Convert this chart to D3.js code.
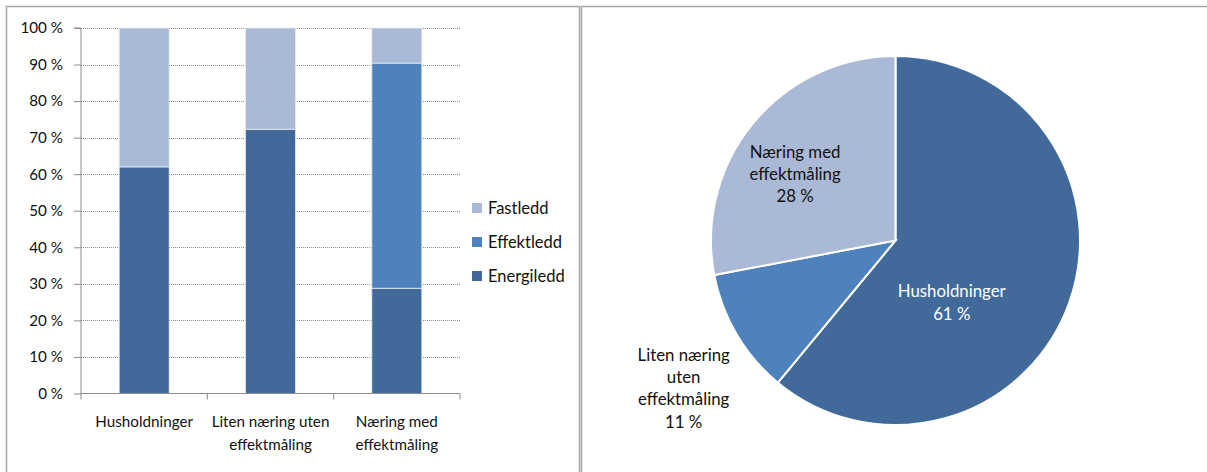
<!DOCTYPE html>
<html>
<head>
<meta charset="utf-8">
<script src="https://cdn.jsdelivr.net/npm/d3@7"></script>
<style>
  html, body { margin: 0; padding: 0; background: #fff; }
  svg { display: block; font-family: Lato, "Open Sans", sans-serif; }
</style>
</head>
<body>
<svg id="chart" width="1207" height="472"></svg>
<script>
// Stacked bar data: share of revenue per tariff component
const categories = [["Husholdninger"], ["Liten næring uten", "effektmåling"], ["Næring med", "effektmåling"]];
const seriesNames = ["Energiledd", "Effektledd", "Fastledd"];
const energiledd = [62, 72.3, 28.8];
const effektledd = [0, 0, 61.6];
const fastledd = [38, 27.7, 9.6];
const yTicks = [0, 10, 20, 30, 40, 50, 60, 70, 80, 90, 100];

// Pie data: share per customer group
const pieLabels = [["Husholdninger"], ["Liten næring", "uten", "effektmåling"], ["Næring med", "effektmåling"]];
const pieValues = [61, 11, 28];

const colors = { Energiledd: "#416a9b", Effektledd: "#4f81bd", Fastledd: "#aab9d6" };
const pieColors = ["#416a9b", "#4f81bd", "#aab9d6"];
const textColor = "#111";

const svg = d3.select("#chart");

// Panel frames
svg.append("rect").attr("x", 6.5).attr("y", 6.5).attr("width", 573).attr("height", 500)
  .attr("fill", "none").attr("stroke", "#a6a6a6").attr("stroke-width", 1.5);
svg.append("rect").attr("x", 581.5).attr("y", 6.5).attr("width", 700).attr("height", 500)
  .attr("fill", "none").attr("stroke", "#a6a6a6").attr("stroke-width", 1.5);

// ---------- Stacked bar chart ----------
const plot = { left: 81, right: 460, top: 28, bottom: 393.5 };
const x = d3.scaleBand().domain(categories.map(d => d.join(" "))).range([plot.left, plot.right]).paddingInner(0).paddingOuter(0);
const y = d3.scaleLinear().domain([0, 100]).range([plot.bottom, plot.top]);

// gridlines
svg.append("g").selectAll("line").data(yTicks.filter(t => t > 0)).join("line")
  .attr("x1", plot.left).attr("x2", plot.right)
  .attr("y1", d => Math.round(y(d)) + 0.5).attr("y2", d => Math.round(y(d)) + 0.5)
  .attr("stroke", "#8c8c8c").attr("stroke-width", 1).attr("stroke-dasharray", "1,1");

// stacks
const rows = categories.map((c, i) => ({ key: c.join(" "), Energiledd: energiledd[i], Effektledd: effektledd[i], Fastledd: fastledd[i] }));
const stacked = d3.stack().keys(seriesNames)(rows);
const barW = 50;
svg.append("g").selectAll("g").data(stacked).join("g")
  .attr("fill", d => colors[d.key])
  .selectAll("rect").data(d => d.filter(p => p[1] - p[0] > 0)).join("rect")
  .attr("x", d => x(d.data.key) + x.bandwidth() / 2 - barW / 2)
  .attr("width", barW)
  .attr("y", d => y(d[1]))
  .attr("height", d => y(d[0]) - y(d[1]))
  .attr("stroke", "#e6ebf3").attr("stroke-width", 0.8);

// y axis
const yAxis = svg.append("g").attr("transform", `translate(${plot.left},0)`)
  .call(d3.axisLeft(y).tickValues(yTicks).tickSize(7).tickPadding(11).tickFormat(d => d + " %"));
yAxis.select(".domain").attr("stroke", "#8c8c8c").attr("d", `M-7,${plot.top}H0V${plot.bottom}`);
yAxis.selectAll(".tick line").attr("stroke", "#8c8c8c");
yAxis.selectAll(".tick text").attr("fill", textColor).style("font-size", "15.2px").style("font-family", "Lato, sans-serif");

// x axis
const xAxisG = svg.append("g").attr("transform", `translate(0,${plot.bottom})`);
xAxisG.append("line").attr("x1", plot.left).attr("x2", plot.right).attr("y1", 0).attr("y2", 0).attr("stroke", "#8c8c8c");
const bounds = x.domain().map(k => x(k)).concat([plot.right]);
xAxisG.selectAll("line.tk").data(bounds).join("line").attr("class", "tk")
  .attr("x1", d => d).attr("x2", d => d).attr("y1", 0).attr("y2", 6).attr("stroke", "#8c8c8c");
xAxisG.selectAll("text").data(categories).join("text")
  .attr("x", d => x(d.join(" ")) + x.bandwidth() / 2)
  .attr("text-anchor", "middle").attr("fill", textColor).style("font-size", "15.2px")
  .selectAll("tspan").data(d => d).join("tspan")
  .attr("x", function () { return d3.select(this.parentNode).attr("x"); })
  .attr("y", (d, i) => 33.5 + i * 22.5)
  .text(d => d);

// legend
const legend = svg.append("g").attr("transform", "translate(472,0)");
const legendItems = ["Fastledd", "Effektledd", "Energiledd"];
legendItems.forEach((name, i) => {
  const cy = 208 + i * 34;
  legend.append("rect").attr("x", 0).attr("y", cy - 5).attr("width", 10).attr("height", 10).attr("fill", colors[name]);
  legend.append("text").attr("x", 16).attr("y", cy + 5.5).attr("fill", textColor).style("font-size", "16.5px").text(name);
});

// ---------- Pie chart ----------
const cx = 895.5, cy = 240.5, R = 184.5;
const pie = d3.pie().sort(null).value(d => d)(pieValues);
const arc = d3.arc().innerRadius(0).outerRadius(R);
const pieG = svg.append("g").attr("transform", `translate(${cx},${cy})`);
pieG.selectAll("path").data(pie).join("path")
  .attr("d", arc)
  .attr("fill", (d, i) => pieColors[i])
  .attr("stroke", "#fff").attr("stroke-width", 2);

// pie labels: radius fraction and angle shift (degrees) relative to slice middle
const labelStyle = [
  { r: 0.454, shift: 28, color: "#ffffff" },
  { r: 1.40, shift: -4.3, color: textColor },
  { r: 0.652, shift: -6.2, color: textColor }
];
const pieFont = 16.8, lh = 22.3;
pie.forEach((p, i) => {
  const a = (p.startAngle + p.endAngle) / 2 + labelStyle[i].shift * Math.PI / 180;
  const lx = cx + Math.sin(a) * R * labelStyle[i].r;
  const ly = cy - Math.cos(a) * R * labelStyle[i].r;
  const lines = pieLabels[i].concat([pieValues[i] + " %"]);
  const t = svg.append("text").attr("text-anchor", "middle").attr("fill", labelStyle[i].color).style("font-size", pieFont + "px");
  lines.forEach((ln, j) => {
    t.append("tspan").attr("x", lx).attr("y", ly + (j - (lines.length - 1) / 2) * lh + pieFont * 0.35).text(ln);
  });
});
</script>
</body>
</html>
